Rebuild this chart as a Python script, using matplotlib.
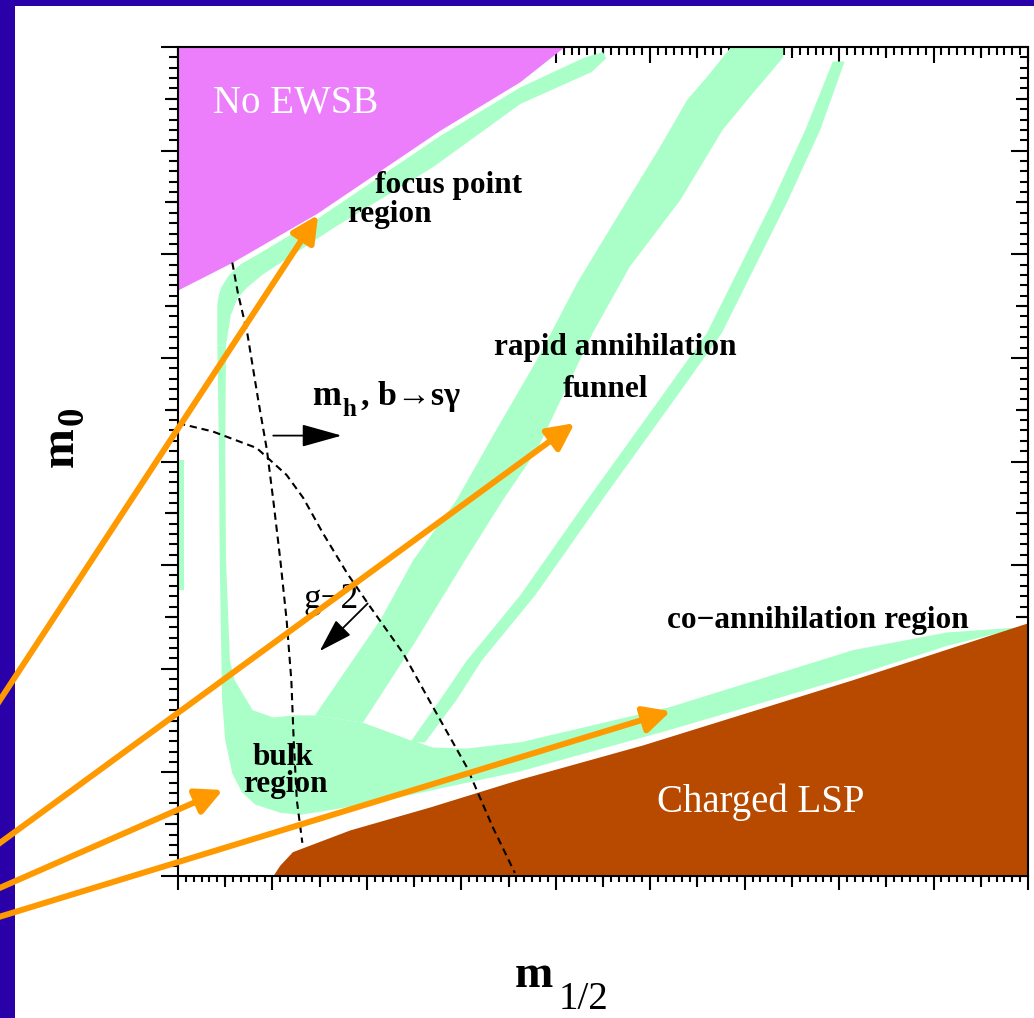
import matplotlib
matplotlib.use("Agg")
import matplotlib.pyplot as plt
from matplotlib.patches import Polygon, Rectangle
from matplotlib.ticker import MultipleLocator, NullFormatter, NullLocator

# ---------------- data (arbitrary units: m_1/2 on x, m_0 on y) ----------------
X_LIM = (0, 1080)
Y_LIM = (0, 800)
X_MAJOR, X_MINOR, X_MEDIUM = 120, 10, 60
Y_MAJOR, Y_MINOR, Y_MEDIUM = 100, 10, 50

# No EWSB region
no_ewsb_x = [-5, 500, 435, 333, 177, 70, -5]
no_ewsb_y = [805, 805, 766, 719, 639, 592, 563]

# focus-point strip (upper part of the left green band)
focus_x = [50, 50, 52, 55, 64, 79, 104, 177, 333, 435, 517, 540, 544, 526, 435, 324, 197, 107, 88, 76, 67, 61]
focus_y = [512, 551, 561, 568, 579, 590, 601, 634, 714, 761, 790, 795, 789, 776, 745, 684, 625, 580, 568, 558, 541, 512]

# bulk region + co-annihilation strip
bulk_x = [50, 52, 53, 56, 60, 69, 81, 98, 130, 155, 197, 282, 367, 435, 625, 858, 977, 1061, 1070,
          977, 858, 625, 435, 367, 324, 304, 295, 260, 235, 174, 146, 121, 95, 83, 72, 66, 61, 60, 61]
bulk_y = [512, 411, 305, 170, 131, 99, 81, 69, 61, 59, 64, 76, 90, 101, 141, 193, 222, 238, 240,
          235, 218, 163, 129, 123, 124, 129, 131, 141, 148, 155, 155, 153, 160, 175, 189, 208, 305, 411, 512]

# rapid annihilation funnel (wide band)
band_x = [174, 257, 299, 354, 404, 456, 507, 558, 612, 647, 672, 708, 769, 769, 748, 731, 692, 638,
          574, 527, 456, 413, 365, 299, 235]
band_y = [155, 247, 305, 363, 430, 498, 572, 636, 703, 749, 771, 805, 805, 790, 771, 756, 720, 652,
          588, 524, 411, 363, 305, 223, 148]

# rapid annihilation funnel (thin strip)
thin_x = [295, 333, 367, 435, 520, 611, 672, 756, 797, 832, 847, 816, 775, 691, 630, 539, 454, 386, 354, 314]
thin_y = [129, 170, 208, 271, 363, 459, 524, 652, 720, 786, 786, 720, 652, 524, 459, 363, 271, 208, 170, 129]

# thin strip along the m_0 axis
edge_x = [1, 8, 8, 1]
edge_y = [276, 276, 401, 401]

# charged LSP region
lsp_x = [117, 130, 146, 219, 320, 435, 591, 858, 1085, 1085]
lsp_y = [-5, 10, 23, 44, 66, 93, 126, 189, 245, -5]

# constraint curves
gm2_x = [0, 44, 100, 138, 159, 184, 215, 244, 286, 324, 367, 400, 428]
gm2_y = [437, 429, 413, 387, 365, 331, 292, 260, 215, 163, 105, 47, 3]
mh_x = [69, 76, 88, 102, 113, 121, 130, 138, 144, 147, 151, 158]
mh_y = [592, 563, 524, 459, 411, 363, 305, 247, 189, 131, 73, 32]

# black arrows: (tail, head)
mh_arrow = ((121, 425), (208, 425))
gm2_arrow = ((241, 263), (180, 217))

# orange pointer arrows: tails (outside the frame) and heads
orange_tails = [(-264, 126), (-264, 11), (-264, -24), (-264, -48)]
orange_heads = [(178, 638), (504, 437), (57, 83), (626, 159)]

# ---------------- style ----------------
BLUE = "#2a00a8"
MAGENTA = "#ec7dfb"
GREEN = "#aaffc8"
BROWN = "#b84a00"
ORANGE = "#ff9900"
SERIF = ["Liberation Serif", "DejaVu Serif"]

W, H = 1034, 1018
fig = plt.figure(figsize=(W / 100, H / 100), dpi=100, facecolor=BLUE)
fig.add_artist(Rectangle((15 / W, 0), (W - 15) / W, (H - 6) / H, transform=fig.transFigure,
                         facecolor="white", edgecolor="none", zorder=-5))
ax = fig.add_axes([178 / W, 142 / H, 850 / W, 829 / H])
ax.set_facecolor("white")
ax.set_xlim(*X_LIM)
ax.set_ylim(*Y_LIM)

# regions
ax.add_patch(Polygon(list(zip(no_ewsb_x, no_ewsb_y)), closed=True, facecolor=MAGENTA, edgecolor="none", zorder=1))
for px, py in [(focus_x, focus_y), (bulk_x, bulk_y), (band_x, band_y), (thin_x, thin_y), (edge_x, edge_y)]:
    ax.add_patch(Polygon(list(zip(px, py)), closed=True, facecolor=GREEN, edgecolor="none", zorder=2))
ax.add_patch(Polygon(list(zip(lsp_x, lsp_y)), closed=True, facecolor=BROWN, edgecolor="none", zorder=2.5))

# dashed constraint curves
ax.plot(gm2_x, gm2_y, color="black", lw=1.5, dashes=(3.5, 2.3), zorder=3)
ax.plot(mh_x, mh_y, color="black", lw=1.5, dashes=(3.5, 2.3), zorder=3)

# black arrows
ax.annotate("", xy=mh_arrow[1], xytext=mh_arrow[0],
            arrowprops=dict(arrowstyle="-|>,head_length=2.5,head_width=0.7", mutation_scale=10,
                            color="black", lw=1.3, shrinkA=0, shrinkB=0), zorder=4)
ax.annotate("", xy=gm2_arrow[1], xytext=gm2_arrow[0],
            arrowprops=dict(arrowstyle="-|>,head_length=2.1,head_width=0.65", mutation_scale=10,
                            color="black", lw=1.3, shrinkA=0, shrinkB=0), zorder=4)


def label(x, y, s, size, color="black", weight="bold", **kw):
    ax.text(x, y, s, fontsize=size, color=color, fontweight=weight, family=SERIF,
            ha="left", va="baseline", zorder=6, **kw)


label(44.5, 736, "No EWSB", 28, color="white", weight="normal")
label(609, 62, "Charged LSP", 28, color="white", weight="normal")
label(250, 659, "focus point", 22.5)
label(215, 631, "region", 22.5)
label(401.5, 503, "rapid annihilation", 22.5)
label(489, 462, "funnel", 22.5)
label(621, 239, "co\u2212annihilation region", 22.5)
label(95, 107, "bulk", 22.5)
label(83, 81, "region", 22.5)
label(159, 259, "g\u22122", 25.5, weight="normal")
label(170, 454.5, "m", 25)
label(209, 444, "h", 18)
label(233, 454.5, ", b\u2192s\u03b3", 24.5)

# axis labels
label(-133.4, 394.7, "m", 34.5, rotation=90, rotation_mode="anchor")
label(-120.7, 435.2, "0", 26.5, rotation=90, rotation_mode="anchor")
label(428, -107, "m", 33)
label(483, -128, "1/2", 28, weight="normal")

# orange pointer arrows
for tail, head in zip(orange_tails, orange_heads):
    ax.annotate("", xy=head, xytext=tail, annotation_clip=False,
                arrowprops=dict(arrowstyle="-|>,head_length=1.6,head_width=0.8", mutation_scale=10,
                                color=ORANGE, lw=4.3, shrinkA=0, shrinkB=0), zorder=10)

# frame and ticks
for sp in ax.spines.values():
    sp.set_linewidth(1.5)
    sp.set_zorder(5)
ax.xaxis.set_major_locator(NullLocator())
ax.yaxis.set_major_locator(NullLocator())


def tick_set(loc, direction, step, sub, length, sub_len, offset=0):
    is_x = loc in ("top", "bottom")
    sec = ax.secondary_xaxis(loc) if is_x else ax.secondary_yaxis(loc)
    axis = sec.xaxis if is_x else sec.yaxis
    for sp in sec.spines.values():
        sp.set_visible(False)
    axis.set_major_locator(MultipleLocator(step, offset=offset))
    if sub:
        axis.set_minor_locator(MultipleLocator(sub))
    else:
        axis.set_minor_locator(NullLocator())
    axis.set_major_formatter(NullFormatter())
    axis.set_minor_formatter(NullFormatter())
    sec.tick_params(axis="x" if is_x else "y", which="major", direction=direction,
                    length=length, width=1.5, color="black")
    sec.tick_params(axis="x" if is_x else "y", which="minor", direction=direction,
                    length=sub_len, width=1.5, color="black")


tick_set("bottom", "out", X_MAJOR, X_MINOR, 10, 4.3)
tick_set("bottom", "out", X_MAJOR, None, 8, 0, offset=X_MEDIUM)
tick_set("top", "in", X_MAJOR, X_MINOR, 11.5, 5.8)
tick_set("top", "in", X_MAJOR, None, 8, 0, offset=X_MEDIUM)
tick_set("left", "out", Y_MAJOR, Y_MINOR, 12.2, 6.5)
tick_set("left", "out", Y_MAJOR, None, 9.4, 0, offset=Y_MEDIUM)
tick_set("right", "in", Y_MAJOR, Y_MINOR, 12.2, 6.0)
tick_set("right", "in", Y_MAJOR, None, 8.6, 0, offset=Y_MEDIUM)

fig.savefig("out.png", dpi=100, facecolor=BLUE)
